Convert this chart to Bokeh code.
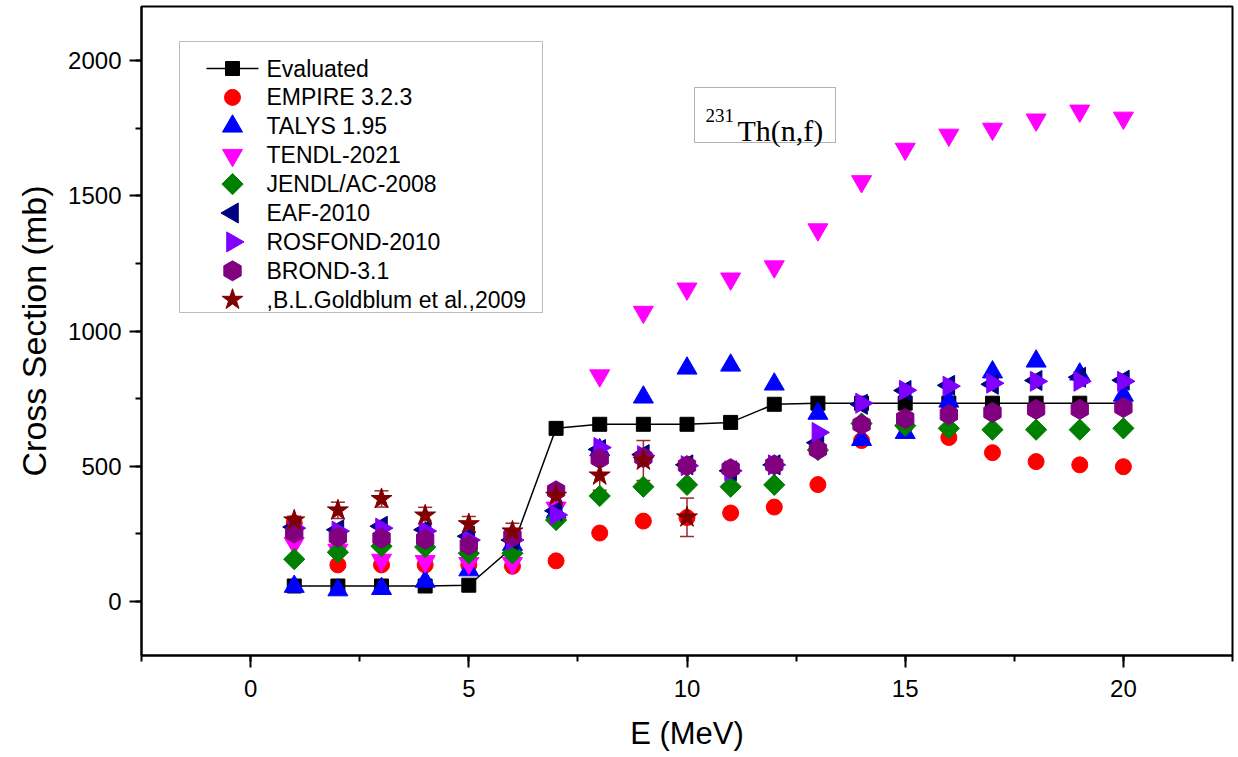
import numpy as np
from bokeh.plotting import figure
from bokeh.models import (SingleIntervalTicker, Range1d, Whisker,
                          ColumnDataSource, BoxAnnotation, Label, TeeHead)
from bokeh.embed import file_html
from bokeh.resources import INLINE

energy = list(range(1, 21))
evaluated = [57, 57, 57, 57, 60, 200, 640, 655, 655, 655, 662, 729, 733, 733, 733, 733, 733, 733, 733, 733]
empire = [290, 135, 135, 135, 135, 130, 150, 253, 297, 310, 327, 349, 432, 595, 650, 606, 550, 517, 505, 498]
talys = [55, 42, 47, 74, 116, 210, 330, 560, 755, 862, 873, 803, 695, 598, 624, 740, 848, 888, 840, 762]
tendl = [215, 190, 153, 148, 141, 141, 346, 835, 1070, 1156, 1193, 1238, 1375, 1553, 1673, 1725, 1747, 1781, 1814, 1788]
jendl = [156, 182, 204, 201, 178, 178, 301, 390, 424, 431, 424, 431, 560, 658, 650, 640, 635, 635, 635, 640]
eaf = [275, 265, 278, 265, 241, 227, 335, 562, 543, 505, 483, 505, 587, 729, 780, 799, 803, 817, 829, 818]
rosfond = [271, 260, 271, 260, 227, 227, 320, 569, 539, 502, 483, 505, 625, 733, 781, 796, 807, 814, 814, 814]
brond = [253, 238, 234, 230, 208, 241, 409, 528, 532, 502, 491, 505, 561, 654, 676, 691, 699, 710, 710, 717]
goldblum_e = list(range(1, 11))
goldblum = [300, 337, 379, 318, 286, 259, 391, 466, 521, 311]
goldblum_err = [15, 30, 30, 30, 28, 30, 37, 55, 74, 71]

series_labels = ["Evaluated", "EMPIRE 3.2.3", "TALYS 1.95", "TENDL-2021", "JENDL/AC-2008",
                 "EAF-2010", "ROSFOND-2010", "BROND-3.1", ",B.L.Goldblum et al.,2009"]

FONT = "Liberation Sans"
X0, X1, Y0, Y1 = -2.5, 22.5, -200, 2200
FL, FR, FT, FB = 141, 1232, 6, 655  # frame edges in px


def px2x(px):
    return X0 + (px - FL) / (FR - FL) * (X1 - X0)


def px2y(py):
    return Y1 - (py - FT) / (FB - FT) * (Y1 - Y0)


p = figure(width=1238, height=757, output_backend="svg", toolbar_location=None,
           x_range=Range1d(X0, X1), y_range=Range1d(Y0, Y1),
           min_border_left=FL, min_border_right=1238 - FR, min_border_top=FT,
           min_border_bottom=757 - FB)
p.xgrid.visible = False
p.ygrid.visible = False
p.outline_line_color = "black"
p.outline_line_width = 2
p.background_fill_color = "white"
p.border_fill_color = "white"

for ax, interval in ((p.xaxis[0], 5), (p.yaxis[0], 500)):
    ax.ticker = SingleIntervalTicker(interval=interval, num_minor_ticks=2)
    ax.axis_line_width = 2
    ax.major_tick_line_width = 2
    ax.minor_tick_line_width = 2
    ax.major_tick_out = 12
    ax.major_tick_in = 0
    ax.minor_tick_out = 6
    ax.minor_tick_in = 0
    ax.major_label_text_font = FONT
    ax.major_label_text_font_size = "24px"
    ax.major_label_text_color = "black"
    ax.axis_label_text_font = FONT
    ax.axis_label_text_font_style = "normal"
    ax.axis_label_text_color = "black"

p.xaxis.axis_label = "E (MeV)"
p.yaxis.axis_label = "Cross Section (mb)"
p.xaxis.axis_label_text_font_size = "31px"
p.yaxis.axis_label_text_font_size = "34px"
p.xaxis.major_label_standoff = 12
p.xaxis.axis_label_standoff = 16
p.yaxis.major_label_standoff = 8
p.yaxis.axis_label_standoff = 12

src = ColumnDataSource(dict(e=energy, ev=evaluated, emp=empire, tal=talys, ten=tendl,
                            jen=jendl, eaf=eaf, ros=rosfond, bro=brond))
gsrc = ColumnDataSource(dict(e=goldblum_e, v=goldblum,
                             lo=[v - d for v, d in zip(goldblum, goldblum_err)],
                             hi=[v + d for v, d in zip(goldblum, goldblum_err)]))

styles = [
    ("square", 14, 0.0, "black"),
    ("circle", 16, 0.0, "#FF0000"),
    ("triangle", 20, 0.0, "#0000FF"),
    ("inverted_triangle", 20, 0.0, "#FF00FF"),
    ("square", 15, np.pi / 4, "#008000"),
    ("triangle", 20, np.pi / 2, "#000080"),
    ("triangle", 20, -np.pi / 2, "#8000FF"),
    ("hex", 20, np.pi / 6, "#800080"),
    ("star", 22, 0.0, "#800000"),
]
cols = ["ev", "emp", "tal", "ten", "jen", "eaf", "ros", "bro"]

# legend frame (drawn manually so marker shapes/rotations match)
p.add_layout(BoxAnnotation(left=px2x(179), right=px2x(542), top=px2y(41), bottom=px2y(312),
                           fill_color="white", fill_alpha=1.0, line_color="#222222",
                           line_width=1, level="underlay"))

p.line("e", "ev", source=src, color="black", line_width=1.5)
for col, (mk, sz, ang, c) in zip(cols, styles[:8]):
    p.scatter("e", col, source=src, marker=mk, size=sz, angle=ang, color=c)

wh = Whisker(base="e", lower="lo", upper="hi", source=gsrc, dimension="height",
             line_color="#9b2a2a", line_width=1.5,
             upper_head=TeeHead(size=14, line_color="#9b2a2a", line_width=1.5),
             lower_head=TeeHead(size=14, line_color="#9b2a2a", line_width=1.5))
p.add_layout(wh)
mk, sz, ang, c = styles[8]
p.scatter("e", "v", source=gsrc, marker=mk, size=sz, angle=ang, color=c)

for i, (lab, (mk, sz, ang, c)) in enumerate(zip(series_labels, styles)):
    yc = px2y(68 + 28.9 * i)
    if i == 0:
        p.line([px2x(206), px2x(258)], [yc, yc], color="black", line_width=1.5)
    p.scatter([px2x(232)], [yc], marker=mk, size=sz, angle=ang, color=c)
    p.add_layout(Label(x=px2x(266), y=yc, text=lab, text_font=FONT, text_font_size="23px",
                       text_color="black", text_baseline="middle"))

box = BoxAnnotation(left=px2x(694), right=px2x(835), bottom=px2y(142), top=px2y(87),
                    fill_color="white", fill_alpha=1.0, line_color="black", line_width=1)
p.add_layout(box)
p.add_layout(Label(x=px2x(705), y=px2y(115), text="231", text_font="Liberation Serif",
                   text_font_size="19px", text_color="black", text_baseline="alphabetic"))
p.add_layout(Label(x=px2x(737), y=px2y(130), text="Th(n,f)", text_font="Liberation Serif",
                   text_font_size="30px", text_color="black", text_baseline="alphabetic"))

open("out.html", "w").write(file_html(p, INLINE))
